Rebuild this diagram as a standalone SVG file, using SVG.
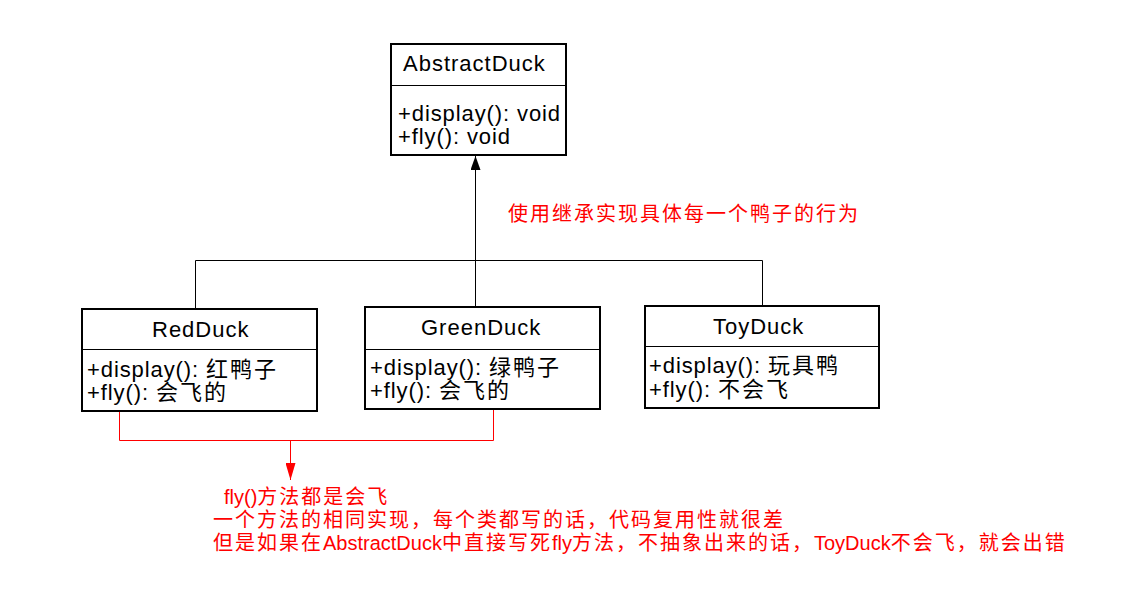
<svg xmlns="http://www.w3.org/2000/svg" width="1133" height="612" viewBox="0 0 1133 612">
<style>
.box{fill:#fff;stroke:#000;stroke-width:2}
.dv{stroke:#000;stroke-width:1}
.t{font-family:"Liberation Sans","Noto Sans CJK SC",sans-serif;font-size:22px;fill:#000}
.ttl{letter-spacing:1px}
.at{letter-spacing:0.9px}
.cj{letter-spacing:2px}
.red{font-family:"Liberation Sans","Noto Sans CJK SC",sans-serif;font-size:20px;fill:#f00}
.rc{letter-spacing:2px}
.edge{fill:none;stroke:#000;stroke-width:1}
.redge{fill:none;stroke:#f00;stroke-width:1}
</style>
<defs>
<marker id="ab" markerWidth="14" markerHeight="10" refX="14" refY="5" orient="auto" markerUnits="userSpaceOnUse" viewBox="0 0 14 10"><path d="M0,0 L14,5 L0,10 z" fill="#000"/></marker>
<marker id="ar" markerWidth="17" markerHeight="10" refX="17" refY="5" orient="auto" markerUnits="userSpaceOnUse" viewBox="0 0 17 10"><path d="M0,0 L17,5 L0,10 z" fill="#f00"/></marker>
</defs>
<rect width="1133" height="612" fill="#fff"/>
<g id="connectors">
<path class="edge" d="M475.5,307 V156" marker-end="url(#ab)"/>
<path class="edge" d="M195.5,309 V260.5 H762.5 V306"/>
<path class="redge" d="M119.5,411 V440.5 H493.5 V409"/>
<path class="redge" d="M290.5,440 V480" marker-end="url(#ar)"/>
</g>
<g id="AbstractDuck">
<rect class="box" x="391" y="44" width="175" height="111"/>
<line class="dv" x1="391" y1="85.5" x2="566" y2="85.5"/>
<text class="t ttl" x="403" y="71">AbstractDuck</text>
<text class="t at" x="398" y="121">+display(): void</text>
<text class="t at" x="398" y="144">+fly(): void</text>
</g>
<g id="RedDuck">
<rect class="box" x="82" y="309" width="235" height="102"/>
<line class="dv" x1="82" y1="349.5" x2="317" y2="349.5"/>
<text class="t ttl" x="152" y="337">RedDuck</text>
<text class="t at" x="87" y="377">+display(): <tspan class="cj">红鸭子</tspan></text>
<text class="t at" x="87" y="400">+fly(): <tspan class="cj">会飞的</tspan></text>
</g>
<g id="GreenDuck">
<rect class="box" x="365" y="307" width="235" height="102"/>
<line class="dv" x1="365" y1="349.5" x2="600" y2="349.5"/>
<text class="t ttl" x="421" y="335">GreenDuck</text>
<text class="t at" x="370" y="375">+display(): <tspan class="cj">绿鸭子</tspan></text>
<text class="t at" x="370" y="398">+fly(): <tspan class="cj">会飞的</tspan></text>
</g>
<g id="ToyDuck">
<rect class="box" x="645" y="306" width="234" height="102"/>
<line class="dv" x1="645" y1="346.5" x2="879" y2="346.5"/>
<text class="t ttl" x="713" y="334">ToyDuck</text>
<text class="t at" x="649" y="373">+display(): <tspan class="cj">玩具鸭</tspan></text>
<text class="t at" x="649" y="397">+fly(): <tspan class="cj">不会飞</tspan></text>
</g>
<g id="note-inherit">
<text class="red rc" x="508" y="221">使用继承实现具体每一个鸭子的行为</text>
</g>
<g id="note-fly">
<text class="red" x="224" y="504">fly()<tspan class="rc">方法都是会飞</tspan></text>
<text class="red rc" x="213" y="527">一个方法的相同实现，每个类都写的话，代码复用性就很差</text>
<text class="red" x="213" y="550"><tspan class="rc">但是如果在</tspan>AbstractDuck<tspan class="rc">中直接写死</tspan>fly<tspan class="rc">方法，不抽象出来的话，</tspan>ToyDuck<tspan class="rc">不会飞，就会出错</tspan></text>
</g>
</svg>
